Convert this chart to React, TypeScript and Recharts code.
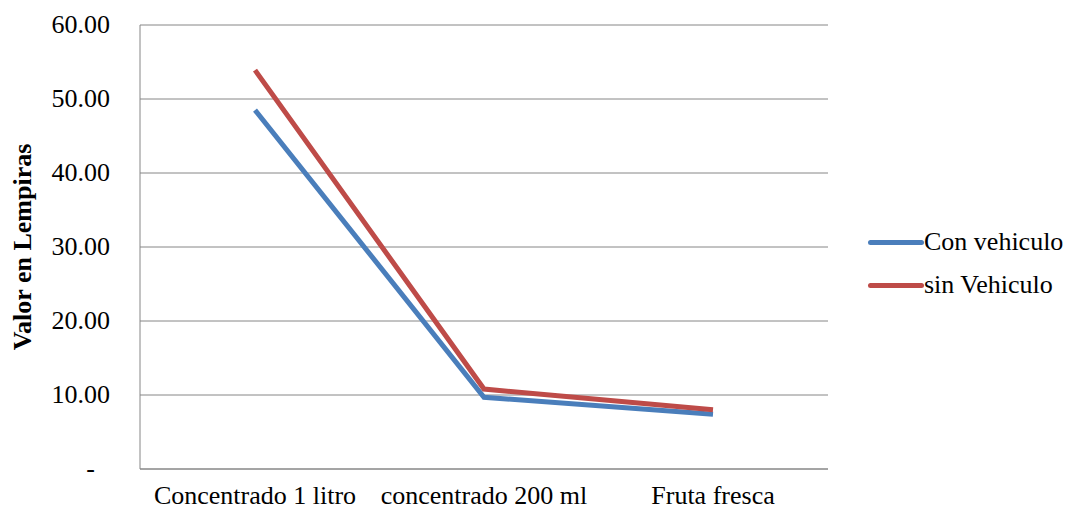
import { LineChart, Line, XAxis, YAxis, CartesianGrid } from "recharts";

const categories = ["Concentrado 1 litro", "concentrado 200 ml", "Fruta fresca"];
const conVehiculo = [48.5, 9.7, 7.4];
const sinVehiculo = [53.9, 10.8, 8.0];
const yTicks = [0, 10, 20, 30, 40, 50, 60];

const data = categories.map((c, i) => ({
  name: c,
  con: conVehiculo[i],
  sin: sinVehiculo[i],
}));

const font = "'Liberation Serif', 'Times New Roman', serif";
const gray = "#868686";
const blue = "#4A7EBB";
const red = "#BE4B48";
const fs = 26;

const YTick = (props: any) => {
  const { x, y, payload } = props;
  const v = payload.value;
  const label = v === 0 ? "-" : v.toFixed(2);
  return (
    <text
      x={v === 0 ? x - 15 : x}
      y={y}
      dy={8}
      textAnchor="end"
      fontFamily={font}
      fontSize={fs}
      fill="#000"
    >
      {label}
    </text>
  );
};

const legendItems = [
  { name: "Con vehiculo", color: blue },
  { name: "sin Vehiculo", color: red },
];

export default function App() {
  return (
    <div style={{ position: "fixed", left: 0, top: 0, width: 1071, height: 512, background: "#fff" }}>
      <LineChart
        width={1071}
        height={512}
        data={data}
        margin={{ top: 25, right: 243, bottom: 0, left: 50 }}
      >
        <CartesianGrid vertical={false} stroke={gray} strokeWidth={1} />
        <XAxis
          dataKey="name"
          height={43}
          padding={{ left: 115, right: 115 }}
          stroke={gray}
          tickLine={false}
          tickSize={0}
          tickMargin={17}
          tick={{ fill: "#000", fontFamily: font, fontSize: fs }}
          interval={0}
        />
        <YAxis
          width={90}
          domain={[0, 60]}
          ticks={yTicks}
          stroke={gray}
          tickLine={false}
          tickSize={0}
          tickMargin={30}
          tick={<YTick />}
          interval={0}
          label={{
            value: "Valor en Lempiras",
            angle: -90,
            position: "insideLeft",
            offset: 0,
            dx: -28,
            style: { fontFamily: font, fontSize: fs, fontWeight: "bold", fill: "#000", textAnchor: "middle" },
          }}
        />
        <Line
          dataKey="con"
          stroke={blue}
          strokeWidth={5}
          dot={false}
          isAnimationActive={false}
        />
        <Line
          dataKey="sin"
          stroke={red}
          strokeWidth={5}
          dot={false}
          isAnimationActive={false}
        />
      </LineChart>
      {legendItems.map((it, i) => (
        <div
          key={it.name}
          style={{
            position: "absolute",
            left: 868,
            top: 226 + i * 43,
            display: "flex",
            alignItems: "center",
            fontFamily: font,
            fontSize: fs,
            color: "#000",
            lineHeight: "32px",
          }}
        >
          <span style={{ display: "inline-block", width: 56, height: 5, borderRadius: 3, background: it.color }} />
          <span>{it.name}</span>
        </div>
      ))}
    </div>
  );
}
